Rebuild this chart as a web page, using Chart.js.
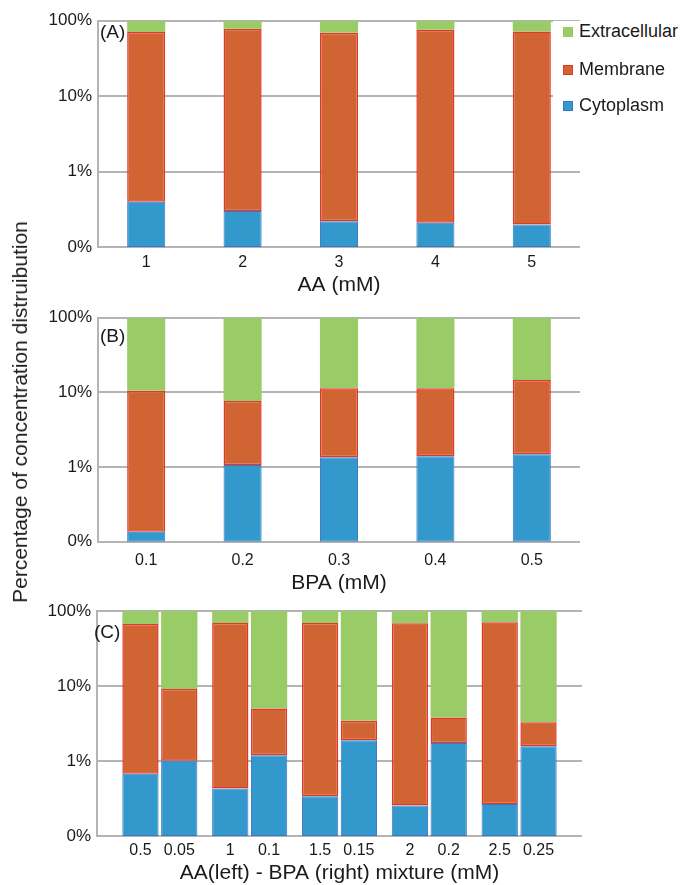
<!DOCTYPE html>
<html>
<head>
<meta charset="utf-8">
<script src="https://cdn.jsdelivr.net/npm/chart.js@4.4.1/dist/chart.umd.min.js"></script>
<style>
  html, body { margin: 0; padding: 0; background: #fff; overflow: hidden; }
  body { width: 685px; height: 885px; position: relative; font-family: "Liberation Sans", Arial, sans-serif; color: #1a1a1a; }
  .panel { position: absolute; left: 0; }
  #ytitulo { position: absolute; left: 20px; top: 412px; transform: translate(-50%, -50%) rotate(-90deg); font-size: 21px; white-space: nowrap; }
  .fila { position: absolute; left: 553px; height: 20px; line-height: 20px; padding-left: 10px; padding-right: 20px; background: #fff; font-size: 18px; white-space: nowrap; }
  .caja { display: inline-block; width: 8px; height: 8px; border: 1px solid; margin-right: 6px; vertical-align: 0px; }
</style>
</head>
<body>
<div class="panel" style="top:0px"><canvas id="graficoA" width="685" height="298"></canvas></div>
<div class="panel" style="top:297px"><canvas id="graficoB" width="685" height="299"></canvas></div>
<div class="panel" style="top:590px"><canvas id="graficoC" width="685" height="296"></canvas></div>
<div id="ytitulo">Percentage of concentration distruibution</div>
<div id="leyenda"></div>
<script>
// eje y (log), 0.1 se muestra como 0%
const yTicks = [0.1, 1, 10, 100];
const yTickLabels = ['0%', '1%', '10%', '100%'];
const seriesNames = ['Cytoplasm', 'Membrane', 'Extracellular'];

// (A) AA
const aaLabels = ['1', '2', '3', '4', '5'];
const aaCyto = [0.40, 0.30, 0.22, 0.21, 0.20];
const aaMemb = [71, 78, 69, 76, 72];

// (B) BPA
const bpaLabels = ['0.1', '0.2', '0.3', '0.4', '0.5'];
const bpaCyto = [0.136, 1.07, 1.35, 1.40, 1.49];
const bpaMemb = [10.5, 7.7, 11.4, 11.4, 14.6];

// (C) mezcla AA - BPA
const mixAALabels = ['0.5', '1', '1.5', '2', '2.5'];
const mixAACyto = [0.68, 0.43, 0.34, 0.256, 0.267];
const mixAAMemb = [67, 69, 69, 68.5, 71];
const mixBPALabels = ['0.05', '0.1', '0.15', '0.2', '0.25'];
const mixBPACyto = [1.01, 1.2, 1.9, 1.74, 1.57];
const mixBPAMemb = [9.1, 5.0, 3.45, 3.82, 3.28];

const relleno = ['#3399cc', '#d06432', '#99cc66'];
const borde = ['#3b78c2', '#e2372b', '#99cc66'];
const grosor = [1, 1.5, 0];
const gris = '#b4b4b4';
const fuente = '"Liberation Sans", Arial, sans-serif';

Chart.defaults.font.family = fuente;
Chart.defaults.color = '#1a1a1a';

const armarSets = (cyto, memb, pila, conX) => {
    let tramos = [
        cyto.map(v => [yTicks[0], v]),
        cyto.map((v, i) => [v, memb[i]]),
        memb.map(v => [v, yTicks[yTicks.length - 1]])
    ];
    return tramos.map((rangos, k) => ({
        label: seriesNames[k],
        stack: pila,
        data: conX ? rangos.map((r, i) => ({ x: i, y: r })) : rangos,
        backgroundColor: relleno[k],
        borderColor: borde[k],
        borderWidth: grosor[k],
        borderSkipped: false
    }));
};

const ejeY = ancho => ({
    type: 'logarithmic',
    min: yTicks[0],
    max: yTicks[yTicks.length - 1],
    stacked: false,
    afterBuildTicks: eje => { eje.ticks = yTicks.map(v => ({ value: v })) },
    afterFit: eje => { eje.width = ancho },
    ticks: { callback: (v, i) => yTickLabels[i], font: { size: 17 }, padding: 6 },
    grid: { color: gris, lineWidth: 2, drawTicks: false },
    border: { color: gris, width: 2 }
});

// chart.js cuenta el padding de ticks dos veces, se compensa con el titulo
const tituloX = (texto, arriba) => ({ display: true, text: texto, font: { size: 21 }, padding: { top: arriba, bottom: 0 } });

const letrero = (texto, dx, dy, extra) => ({
    id: 'letrero',
    afterDraw(chart) {
        let ctx = chart.ctx;
        let area = chart.chartArea;
        ctx.save();
        ctx.fillStyle = '#1a1a1a';
        ctx.textBaseline = 'middle';
        ctx.font = '19px ' + fuente;
        ctx.fillText(texto, area.left + dx, area.top + dy);
        if (extra) extra(chart, ctx, area);
        ctx.restore();
    }
});

const graficoSimple = (id, labels, cyto, memb, titulo, pad, arriba, letra, dy) => {
    return new Chart(document.getElementById(id), {
        type: 'bar',
        data: { labels: labels, datasets: armarSets(cyto, memb, 'todo', false) },
        options: {
            responsive: false,
            animation: false,
            categoryPercentage: 1,
            barPercentage: 0.395,
            layout: { padding: { top: 20.7, right: 105, bottom: 0, left: 0 } },
            plugins: { legend: { display: false }, tooltip: { enabled: false } },
            scales: {
                x: {
                    ticks: { font: { size: 16 }, padding: pad },
                    grid: { display: false, drawTicks: false },
                    border: { display: false },
                    title: tituloX(titulo, arriba)
                },
                y: ejeY(98)
            }
        },
        plugins: [letrero(letra, 2, dy)]
    });
};

let chartA = graficoSimple('graficoA', aaLabels, aaCyto, aaMemb, 'AA (mM)', 5.7, -4.9, '(A)', 12.3);
let chartB = graficoSimple('graficoB', bpaLabels, bpaCyto, bpaMemb, 'BPA (mM)', 8.7, -7.6, '(B)', 19);

// etiquetas de cada barra en (C)
const etiquetasC = (chart, ctx, area) => {
    ctx.font = '16px ' + fuente;
    ctx.textAlign = 'center';
    chart.getDatasetMeta(0).data.forEach((barra, i) => ctx.fillText(mixAALabels[i], barra.x, area.bottom + 14.3));
    chart.getDatasetMeta(3).data.forEach((barra, i) => ctx.fillText(mixBPALabels[i], barra.x, area.bottom + 14.3));
};

let chartC = new Chart(document.getElementById('graficoC'), {
    type: 'bar',
    data: {
        datasets: armarSets(mixAACyto, mixAAMemb, 'AA', true).concat(armarSets(mixBPACyto, mixBPAMemb, 'BPA', true))
    },
    options: {
        responsive: false,
        animation: false,
        categoryPercentage: 0.864,
        barPercentage: 0.935,
        layout: { padding: { top: 21, right: 103, bottom: 0, left: 0 } },
        plugins: { legend: { display: false }, tooltip: { enabled: false } },
        scales: {
            x: {
                type: 'linear',
                min: -0.7,
                max: mixAALabels.length - 0.3,
                offset: false,
                afterBuildTicks: eje => { eje.ticks = mixAALabels.map((l, i) => ({ value: i })) },
                ticks: { callback: () => '', font: { size: 16 }, padding: 4.7 },
                grid: { display: false, drawTicks: false, offset: false },
                border: { display: false },
                title: tituloX('AA(left) - BPA (right) mixture (mM)', -3.9)
            },
            y: ejeY(97)
        }
    },
    plugins: [letrero('(C)', -3, 21.7, etiquetasC)]
});

// leyenda en html, de arriba hacia abajo
const filasY = [21, 59, 95];
let leyenda = document.getElementById('leyenda');
chartA.data.datasets.slice().reverse().forEach((ds, k) => {
    let fila = document.createElement('div');
    fila.className = 'fila';
    fila.style.top = filasY[k] + 'px';
    fila.innerHTML = `<span class="caja" style="background:${ds.backgroundColor};border-color:${ds.borderWidth ? ds.borderColor : ds.backgroundColor}"></span>${ds.label}`;
    leyenda.appendChild(fila);
});
</script>
</body>
</html>
